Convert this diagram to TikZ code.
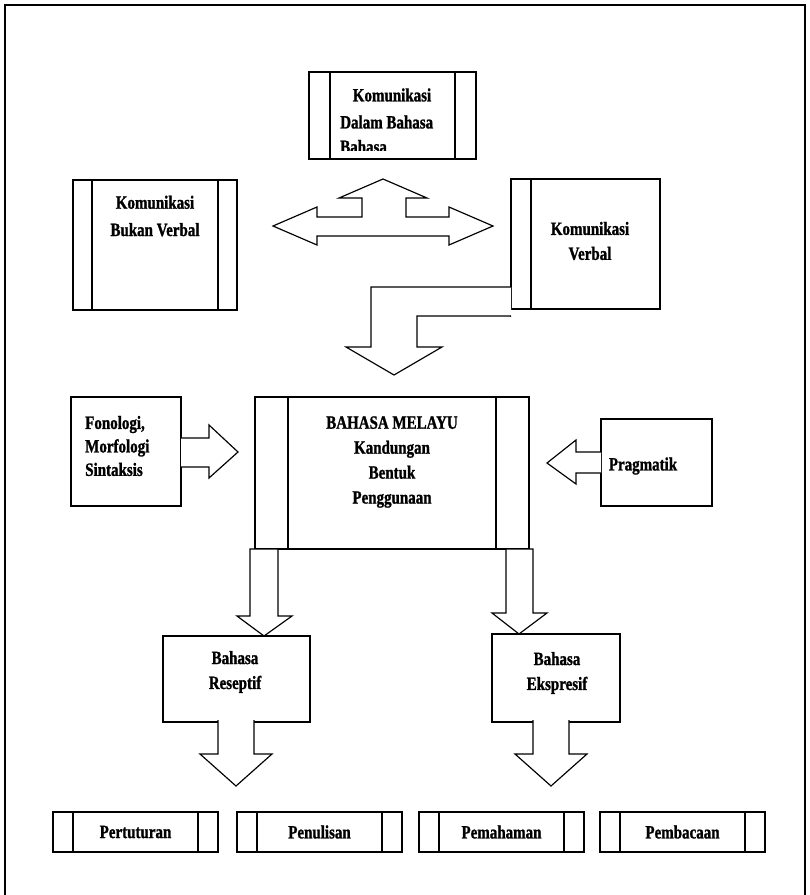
\documentclass[tikz,border=0pt]{standalone}
\usepackage{fontspec}
\setmainfont{Liberation Serif}[FakeStretch=0.8, BoldFeatures={FakeBold=1.2}]
\usetikzlibrary{fit}
\tikzset{
  box/.style={draw, line width=1pt, inner sep=0pt, fit={#1}},
  strips/.style={path picture={
    \draw[line width=1pt] ([xshift=#1]path picture bounding box.north west) -- ([xshift=#1]path picture bounding box.south west);
    \draw[line width=1pt] ([xshift=-#1]path picture bounding box.north east) -- ([xshift=-#1]path picture bounding box.south east);}},
  lstrip/.style={path picture={
    \draw[line width=1pt] ([xshift=#1]path picture bounding box.north west) -- ([xshift=#1]path picture bounding box.south west);}},
  blk/.style={draw, line width=1pt, fill=white, line join=miter},
  lbl/.style={font=\fontsize{16}{21.3}\selectfont\bfseries, align=center, inner sep=0pt},
}
\begin{document}
\begin{tikzpicture}[x=0.03cm,y=-0.03cm]
\useasboundingbox[fill=white] (0,0) rectangle (809,895);
\draw[line width=1pt] (5,900)--(5,5)--(805,5)--(805,900);
\draw[line width=2pt] (5,5)--(805,5);

\node[box={(309,72) (476,159)}, strips=0.63cm] (kdb) {};
\node[lbl] (kdb-a) at (392,95) {Komunikasi};
\node[lbl, anchor=west] (kdb-b) at (340,122) {Dalam Bahasa};
\begin{scope}
  \clip (331,130) rectangle (453,150);
  \node[lbl, anchor=base west] (kdb-c) at (340,153) {Bahasa};
\end{scope}

\node[box={(73,180) (237,310)}, strips=0.57cm] (kbv) {};
\node[lbl] (kbv-t) at (155,216) {Komunikasi\\[2pt]Bukan Verbal};

\node[box={(511,179) (660,309)}, lstrip=0.6cm] (kv) {};
\node[lbl] (kv-t) at (590,241) {Komunikasi\\Verbal};

\draw[blk] (273,226)--(317,207)--(317,217)--(362,217)--(362,198)--(339,198)--(383,179)
  --(427,198)--(406,198)--(406,217)--(449,217)--(449,207)--(493,226)--(449,245)
  --(449,236)--(317,236)--(317,245)--cycle;

\draw[line width=1pt] (kv.south west)--++(0,7);
\draw[blk] (511,287)--(371,287)--(371,347)--(346,347)--(394,375)--(442,347)--(417,347)--(417,316)--(511,316);

\node[box={(255,397) (529,549)}, strips=0.99cm] (bm) {};
\node[lbl] (bm-t) at (392,462) {BAHASA MELAYU\\Kandungan\\Bentuk\\Penggunaan};

\node[box={(71,397) (181,506)}] (fms) {};
\node[lbl, align=left, anchor=west, font=\fontsize{16}{20}\selectfont\bfseries] (fms-t) at (85,446) {Fonologi,\\Morfologi\\Sintaksis};
\draw[blk] (181,438)--(209,438)--(209,425)--(238,452)--(209,478)--(209,467)--(181,467);

\node[box={(601,419) (712,506)}] (pr) {};
\node[lbl] (pr-t) at (643,466) {Pragmatik};
\draw[blk] (601,452)--(576,452)--(576,440)--(547,463)--(576,484)--(576,473)--(601,473);

\draw[blk] (250,549)--(250,616)--(237,616)--(264,636)--(292,616)--(278,616)--(278,549)--cycle;
\draw[blk] (506,549)--(506,613)--(492,613)--(519,634)--(547,613)--(533,613)--(533,549)--cycle;

\node[box={(163,636) (310,722)}] (br) {};
\node[lbl] (br-t) at (235,672) {Bahasa\\Reseptif};
\node[box={(492,634) (620,722)}] (be) {};
\node[lbl] (be-t) at (557,673) {Bahasa\\Ekspresif};

\draw[blk] (218,720)--(218,754)--(200,754)--(236,786)--(272,754)--(254,754)--(254,720);
\draw[blk] (533,720)--(533,754)--(515,754)--(551,786)--(587,754)--(569,754)--(569,720);

\foreach \n/\xa/\t in {pt/53/Pertuturan,pn/237/Penulisan,pm/419/Pemahaman,pb/600/Pembacaan}
{
  \node[box={(\xa,812) (\xa+165,852)}, strips=0.6cm] (\n) {};
  \node[lbl] (\n-t) at (\n) {\t};
}
\end{tikzpicture}
\end{document}
